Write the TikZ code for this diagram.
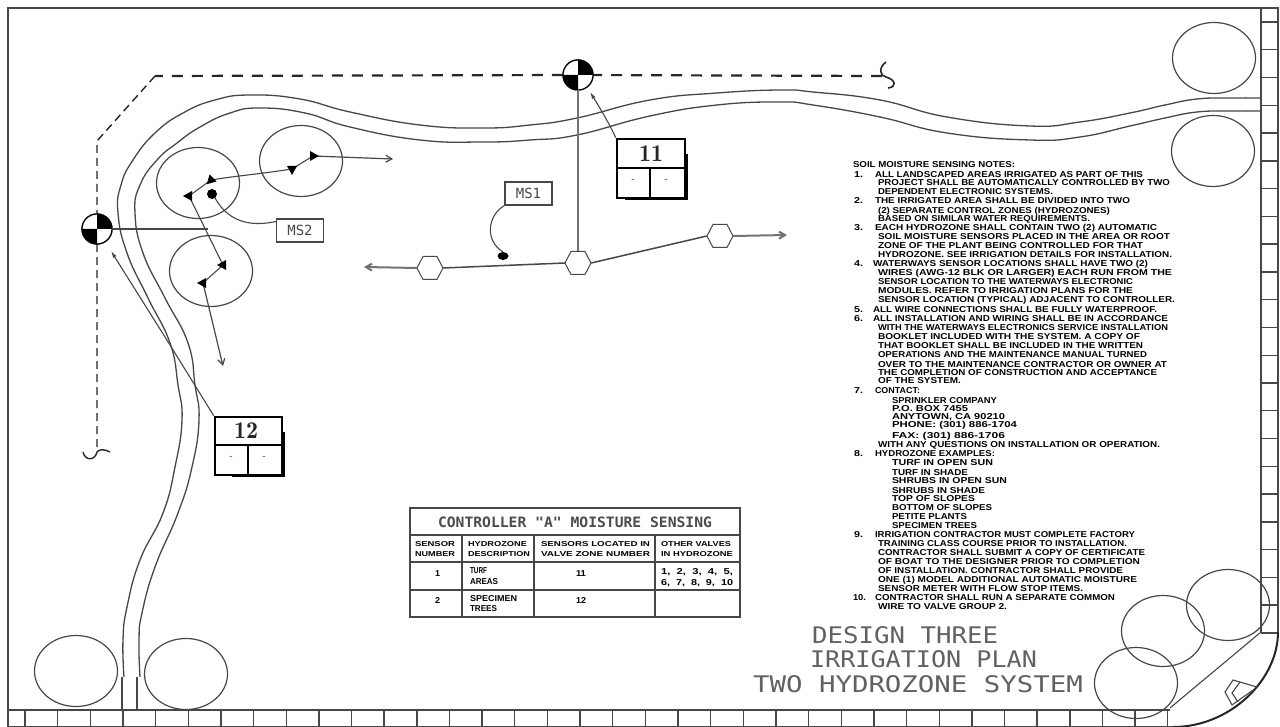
\documentclass[tikz,border=0pt]{standalone}
\usepackage{graphicx}
\usepackage{fontspec}
\setmainfont{Liberation Sans}
\newfontfamily\titlefont{DejaVu Sans Mono}
\usetikzlibrary{arrows.meta}
\definecolor{inkgray}{gray}{0.28}
\definecolor{titlegray}{gray}{0.38}
\newsavebox{\stretchbox}
% stretched text: x0, x1, y, height, text
\newcommand{\fit}[5]{\node[anchor=west,inner sep=0pt,outer sep=0pt] (t#1x#3) at (#1,#3) {\sbox{\stretchbox}{#5}\ht\stretchbox=7pt \dp\stretchbox=0pt \resizebox{\dimexpr #2pt-#1pt\relax}{#4pt}{\usebox{\stretchbox}}};}
\newcommand{\nt}[4]{\fit{#1}{#2}{#3}{6}{\bfseries #4}}
\newcommand{\nh}[4]{\fit{#1}{#2}{#3}{5}{\bfseries #4}}
\newcommand{\plant}[2]{\draw[plantline] (#1,#2) ellipse [x radius=41.5,y radius=35.5];}
\newcommand{\head}[3]{\fill[black,rotate around={#3:(#1,#2)}] (#1-5,#2-3) -- (#1+5,#2-3) -- (#1,#2+6) -- cycle;}
\newcommand{\hexv}[3]{\node[hexnode] (#1) at (#2,#3) {};
  \draw[line width=1pt,draw=inkgray,fill=white] (#2-13,#3) -- (#2-7,#3-11.5) -- (#2+7,#3-11.5) -- (#2+13,#3) -- (#2+7,#3+11.5) -- (#2-7,#3+11.5) -- cycle;}
\newcommand{\ctrl}[3]{\node[ctrlnode] (#1) at (#2,#3) {};
  \fill[white] (#2,#3) circle (15);
  \fill[black] (#2,#3) -- (#2+15,#3) arc[start angle=0,end angle=-90,radius=15] -- cycle;
  \fill[black] (#2,#3) -- (#2-15,#3) arc[start angle=180,end angle=90,radius=15] -- cycle;
  \draw[line width=1.2pt] (#2,#3) circle (15);}
\tikzset{
  x=1pt,y=-1pt,
  plantline/.style={line width=1.2pt,draw=inkgray},
  roadline/.style={line width=1.3pt,draw=inkgray},
  frameline/.style={line width=1.4pt,draw=inkgray},
  pipe/.style={line width=1.1pt,draw=inkgray},
  mainline/.style={line width=2pt,draw=black!55},
  dashline/.style={line width=2.2pt,dash pattern=on 11pt off 9pt,draw=black!85},
  dashthin/.style={line width=1.4pt,dash pattern=on 8pt off 5pt,draw=black!85},
  flow/.style={-{Straight Barb[length=6pt,width=7pt]},line width=1.2pt,draw=inkgray},
  hexnode/.style={minimum width=26pt,minimum height=23pt,inner sep=0pt},
  ctrlnode/.style={circle,minimum size=30pt,inner sep=0pt},
  tag/.style={draw=inkgray,line width=1.2pt,fill=white,minimum width=47pt,minimum height=23pt,inner sep=0pt,text=inkgray,font=\titlefont\fontsize{14}{14}\selectfont},
  valvebox/.style={draw=black,line width=2.6pt,fill=white,inner sep=0pt},
}
\begin{document}
\begin{tikzpicture}
\useasboundingbox (0,0) rectangle (1280,727);
\fill[white] (0,0) rectangle (1280,727);
% frame
\draw[frameline,line width=2pt] (8,727) -- (8,8) -- (1278,8) -- (1278,632);
\draw[frameline] (1261,8) -- (1261,632);
\draw[frameline] (8,710) -- (1170,710);
\draw[frameline] (8,726.3) -- (1173,726.3);
\foreach \k in {0,...,35} \draw[frameline] (25+\k*32.65,710) -- (25+\k*32.65,727);
\foreach \k in {0,...,22} \draw[frameline] (1261,22+\k*27.77) -- (1278,22+\k*27.77);
\draw[line width=2pt,draw=black!85] (1278,632) .. controls (1278,680) and (1230,727) .. (1173,727);
\draw[pipe] (1261,632) -- (1170,708);
\draw[pipe] (1257,687) -- (1233,680) -- (1225,692) -- (1232,705) -- (1253,690);
\draw[pipe] (1240,682) -- (1232,693) -- (1238,702);
% road
\draw[roadline] plot[smooth,tension=0.8] coordinates {(124,677) (123,640) (127,607) (140,560) (163,513) (175,467) (182,420) (178,385) (170,343) (148,298) (127,253) (118,213) (121,185) (133,160) (155,133) (183,113) (215,100) (250,95) (300,99) (350,112) (420,125) (483,128) (530,125) (577,118) (650,100) (717,93) (780,90) (813,92) (880,100) (947,117) (1030,126) (1080,122) (1130,113) (1165,105) (1197,99) (1230,98) (1261,98)};
\draw[roadline] plot[smooth,tension=0.8] coordinates {(140,677) (139,640) (142,613) (155,567) (178,513) (192,467) (199,420) (195,385) (188,343) (165,298) (143,253) (135,213) (140,185) (157,160) (177,143) (200,127) (230,113) (260,108) (305,113) (350,127) (420,140) (483,142) (530,140) (577,135) (650,116) (717,105) (780,102) (813,105) (880,117) (947,133) (1030,140) (1080,137) (1130,126) (1165,118) (1197,112) (1230,111) (1261,111)};
\draw[roadline] (122,677) -- (122,710) (137,677) -- (137,710);
% large trees
\plant{1214}{58}\plant{1213}{151}\plant{76}{671}\plant{186}{674}\plant{1228}{605}\plant{1163}{631}\plant{1136}{683}
% plant circles
\plant{198}{183}\plant{301}{161}\plant{211}{271}
% dashed control wire
\coordinate (wireE) at (882,76);
\coordinate (wireS) at (97,447);
\coordinate (wireNW) at (155,76);
\coordinate (wireW) at (97,141);
\ctrl{ctrlA}{97}{229}
\ctrl{ctrlB}{578}{75}
\draw[dashline] (wireE) -- (ctrlB);
\draw[dashline] (ctrlB) -- (wireNW);
\draw[dashthin] (wireNW) -- (wireW) -- (ctrlA) -- (wireS);
\draw[line width=1.6pt,draw=black!85] (886,62) .. controls (878,68) and (880,76) .. (886,77) .. controls (896,80) and (897,87) .. (888,88);
\draw[line width=1.4pt,draw=black!85] (83,452) .. controls (85,461) and (95,461) .. (97,452) .. controls (99,449) and (105,449) .. (110,452);
\ctrl{ctrlA}{97}{229}
\ctrl{ctrlB}{578}{75}
% sprinkler pipe, left group
\coordinate (h1) at (189,196); \coordinate (h2) at (211,180); \coordinate (h3) at (292,169);
\coordinate (h4) at (313,156); \coordinate (h5) at (223,265); \coordinate (h6) at (203,283);
\coordinate (a1) at (393,159); \coordinate (a2) at (223,366);
\draw[pipe] (h1) -- (h2) .. controls (235,176) and (260,174) .. (h3) -- (h4);
\draw[flow] (h4) -- (a1);
\draw[pipe] (h1) -- (h5) -- (h6);
\draw[flow] (h6) -- (a2);
\head{189}{196}{-90}\head{211}{180}{-45}\head{292}{169}{0}\head{313}{156}{90}\head{223}{265}{-90}\head{203}{283}{-90}
\fill (212,194) circle (5);
% leaders from controllers
\draw[pipe] (ctrlA.east) -- (208,229);
\draw[mainline] (ctrlB.south) -- (578,252);
% main line with hex valves
\coordinate (a3) at (364,267); \coordinate (a4) at (787,235);
\hexv{v1}{430}{268}\hexv{v2}{578}{263}\hexv{v3}{720}{236}
\draw[mainline,-{Straight Barb[length=6pt,width=7pt]}] (v1.west) -- (a3);
\draw[mainline,-{Straight Barb[length=6pt,width=7pt]}] (v3.east) -- (a4);
\draw[pipe,line width=1.5pt] (v1.east) -- (v2.west);
\draw[pipe,line width=1.5pt] (v2.east) -- (v3.west);
% MS tags
\node[tag] (ms1) at (528.5,193.5) {MS1};
\node[tag] (ms2) at (300,230.5) {MS2};
\fill (503,256) ellipse [x radius=5.5,y radius=4];
\draw[pipe] (ms1.south west) .. controls (488,215) and (484,240) .. (503,252);
\draw[pipe] (ms2.west) ++(0,-9) .. controls (255,226) and (230,225) .. (215,198);
% valve boxes
\node[valvebox,minimum width=68pt,minimum height=59pt] (b11) at (651,168.5) {};
\fill[black] (685,154) rectangle (688,199);
\fill[black] (625,197) rectangle (688,200);
\draw[line width=1.8pt] (617,168) -- (685,168) (650,168) -- (650,198);
\node[font=\bfseries\fontsize{24}{24}\selectfont,text=black!85,inner sep=0pt] (n11) at (651,154) {\fontfamily{lmr}\selectfont 11};
\node[font=\fontsize{10}{10}\selectfont,text=inkgray,inner sep=0pt] (m11a) at (633,181) {-};
\node[font=\fontsize{10}{10}\selectfont,text=inkgray,inner sep=0pt] (m11b) at (666,181) {-};
\node[valvebox,minimum width=67pt,minimum height=58pt] (b12) at (248.5,446) {};
\fill[black] (282,432) rectangle (285,476);
\fill[black] (232,474) rectangle (285,477);
\draw[line width=1.8pt] (215,445) -- (282,445) (248,445) -- (248,475);
\node[font=\bfseries\fontsize{24}{24}\selectfont,text=black!85,inner sep=0pt] (n12) at (246,431) {\fontfamily{lmr}\selectfont 12};
\node[font=\fontsize{10}{10}\selectfont,text=inkgray,inner sep=0pt] (m12a) at (231,458) {-};
\node[font=\fontsize{10}{10}\selectfont,text=inkgray,inner sep=0pt] (m12b) at (264,458) {-};
\draw[pipe,-{Latex[length=7pt,width=4pt]}] (b11.north west) .. controls (610,125) and (600,108) .. (590,92);
\draw[pipe,-{Latex[length=7pt,width=4pt]}] (b12.north west) -- (170,345) -- (111,251);
% table
\draw[frameline,line width=1.8pt] (410,508) rectangle (740,617);
\draw[frameline,line width=1.8pt] (410,535) -- (740,535) (410,562) -- (740,562);
\draw[frameline] (410,590) -- (740,590);
\draw[frameline,line width=1.8pt] (462,535) -- (462,617) (534,535) -- (534,617) (655,535) -- (655,617);
\fit{438}{712}{522}{10}{\titlefont\bfseries\color{black!70}CONTROLLER "A" MOISTURE SENSING}
\nh{415}{455}{544}{SENSOR}
\nh{415}{455}{554}{NUMBER}
\nh{468}{527}{544}{HYDROZONE}
\nh{468}{530}{554}{DESCRIPTION}
\nh{541}{650}{544}{SENSORS LOCATED IN}
\nh{541}{650}{554}{VALVE ZONE NUMBER}
\nh{661}{731}{544}{OTHER VALVES}
\nh{661}{733}{554}{IN HYDROZONE}
\nt{435}{440}{573}{1}
\nt{470}{487}{570}{TURF}
\nt{470}{498}{581}{AREAS}
\nt{576}{586}{573}{11}
\nt{661}{733}{571}{1,\ \ 2,\ \ 3,\ \ 4,\ \ 5,}
\nt{661}{733}{582}{6,\ \ 7,\ \ 8,\ \ 9,\ \ 10}
\nt{435}{440}{600}{2}
\nt{470}{517}{598}{SPECIMEN}
\nt{470}{497}{608}{TREES}
\nt{576}{586}{600}{12}
% notes
\nt{853}{1015}{165}{SOIL MOISTURE SENSING NOTES:}
\nt{854}{863}{175}{1.}
\nt{875}{1143}{175}{ALL LANDSCAPED AREAS IRRIGATED AS PART OF THIS}
\nt{878}{1170}{183}{PROJECT SHALL BE AUTOMATICALLY CONTROLLED BY TWO}
\nt{878}{1053}{192}{DEPENDENT ELECTRONIC SYSTEMS.}
\nt{854}{863}{201}{2.}
\nt{875}{1130}{201}{THE IRRIGATED AREA SHALL BE DIVIDED INTO TWO}
\nt{878}{1110}{211}{(2) SEPARATE CONTROL ZONES (HYDROZONES)}
\nt{878}{1090}{219}{BASED ON SIMILAR WATER REQUIREMENTS.}
\nt{854}{863}{228}{3.}
\nt{875}{1157}{228}{EACH HYDROZONE SHALL CONTAIN TWO (2) AUTOMATIC}
\nt{878}{1170}{237}{SOIL MOISTURE SENSORS PLACED IN THE AREA OR ROOT}
\nt{878}{1143}{246}{ZONE OF THE PLANT BEING CONTROLLED FOR THAT}
\nt{878}{1172}{255}{HYDROZONE. SEE IRRIGATION DETAILS FOR INSTALLATION.}
\nt{854}{863}{264}{4.}
\nt{873}{1148}{264}{WATERWAYS SENSOR LOCATIONS SHALL HAVE TWO (2)}
\nt{878}{1172}{273}{WIRES (AWG-12 BLK OR LARGER) EACH RUN FROM THE}
\nt{878}{1133}{282}{SENSOR LOCATION TO THE WATERWAYS ELECTRONIC}
\nt{878}{1133}{291}{MODULES. REFER TO IRRIGATION PLANS FOR THE}
\nt{878}{1175}{300}{SENSOR LOCATION (TYPICAL) ADJACENT TO CONTROLLER.}
\nt{854}{863}{310}{5.}
\nt{873}{1157}{310}{ALL WIRE CONNECTIONS SHALL BE FULLY WATERPROOF.}
\nt{854}{863}{319}{6.}
\nt{873}{1168}{319}{ALL INSTALLATION AND WIRING SHALL BE IN ACCORDANCE}
\nt{878}{1168}{328}{WITH THE WATERWAYS ELECTRONICS SERVICE INSTALLATION}
\nt{878}{1140}{337}{BOOKLET INCLUDED WITH THE SYSTEM. A COPY OF}
\nt{878}{1143}{346}{THAT BOOKLET SHALL BE INCLUDED IN THE WRITTEN}
\nt{878}{1147}{355}{OPERATIONS AND THE MAINTENANCE MANUAL TURNED}
\nt{878}{1167}{364}{OVER TO THE MAINTENANCE CONTRACTOR OR OWNER AT}
\nt{878}{1157}{372}{THE COMPLETION OF CONSTRUCTION AND ACCEPTANCE}
\nt{878}{961}{381}{OF THE SYSTEM.}
\nt{854}{863}{390}{7.}
\nt{875}{920}{390}{CONTACT:}
\nt{892}{997}{400}{SPRINKLER COMPANY}
\nt{892}{968}{408}{P.O. BOX 7455}
\nt{892}{1005}{416}{ANYTOWN, CA 90210}
\nt{892}{1017}{425}{PHONE: (301) 886-1704}
\nt{892}{1005}{435}{FAX: (301) 886-1706}
\nt{878}{1160}{444}{WITH ANY QUESTIONS ON INSTALLATION OR OPERATION.}
\nt{854}{863}{453}{8.}
\nt{875}{995}{453}{HYDROZONE EXAMPLES:}
\nt{892}{993}{462}{TURF IN OPEN SUN}
\nt{892}{968}{472}{TURF IN SHADE}
\nt{892}{1007}{480}{SHRUBS IN OPEN SUN}
\nt{892}{985}{490}{SHRUBS IN SHADE}
\nt{892}{975}{498}{TOP OF SLOPES}
\nt{892}{992}{507}{BOTTOM OF SLOPES}
\nt{892}{967}{516}{PETITE PLANTS}
\nt{892}{977}{525}{SPECIMEN TREES}
\nt{854}{863}{534}{9.}
\nt{875}{1135}{534}{IRRIGATION CONTRACTOR MUST COMPLETE FACTORY}
\nt{878}{1127}{543}{TRAINING CLASS COURSE PRIOR TO INSTALLATION.}
\nt{878}{1145}{552}{CONTRACTOR SHALL SUBMIT A COPY OF CERTIFICATE}
\nt{878}{1140}{561}{OF BOAT TO THE DESIGNER PRIOR TO COMPLETION}
\nt{878}{1123}{570}{OF INSTALLATION. CONTRACTOR SHALL PROVIDE}
\nt{878}{1137}{579}{ONE (1) MODEL ADDITIONAL AUTOMATIC MOISTURE}
\nt{878}{1083}{588}{SENSOR METER WITH FLOW STOP ITEMS.}
\nt{853}{866}{597}{10.}
\nt{875}{1115}{597}{CONTRACTOR SHALL RUN A SEPARATE COMMON}
\nt{878}{1007}{606}{WIRE TO VALVE GROUP 2.}
% title block
\fit{812}{998}{635}{16}{\titlefont\color{titlegray}DESIGN THREE}
\fit{810}{1037}{659}{16}{\titlefont\color{titlegray}IRRIGATION PLAN}
\fit{753}{1083}{684}{16}{\titlefont\color{titlegray}TWO HYDROZONE SYSTEM}
\end{tikzpicture}
\end{document}
